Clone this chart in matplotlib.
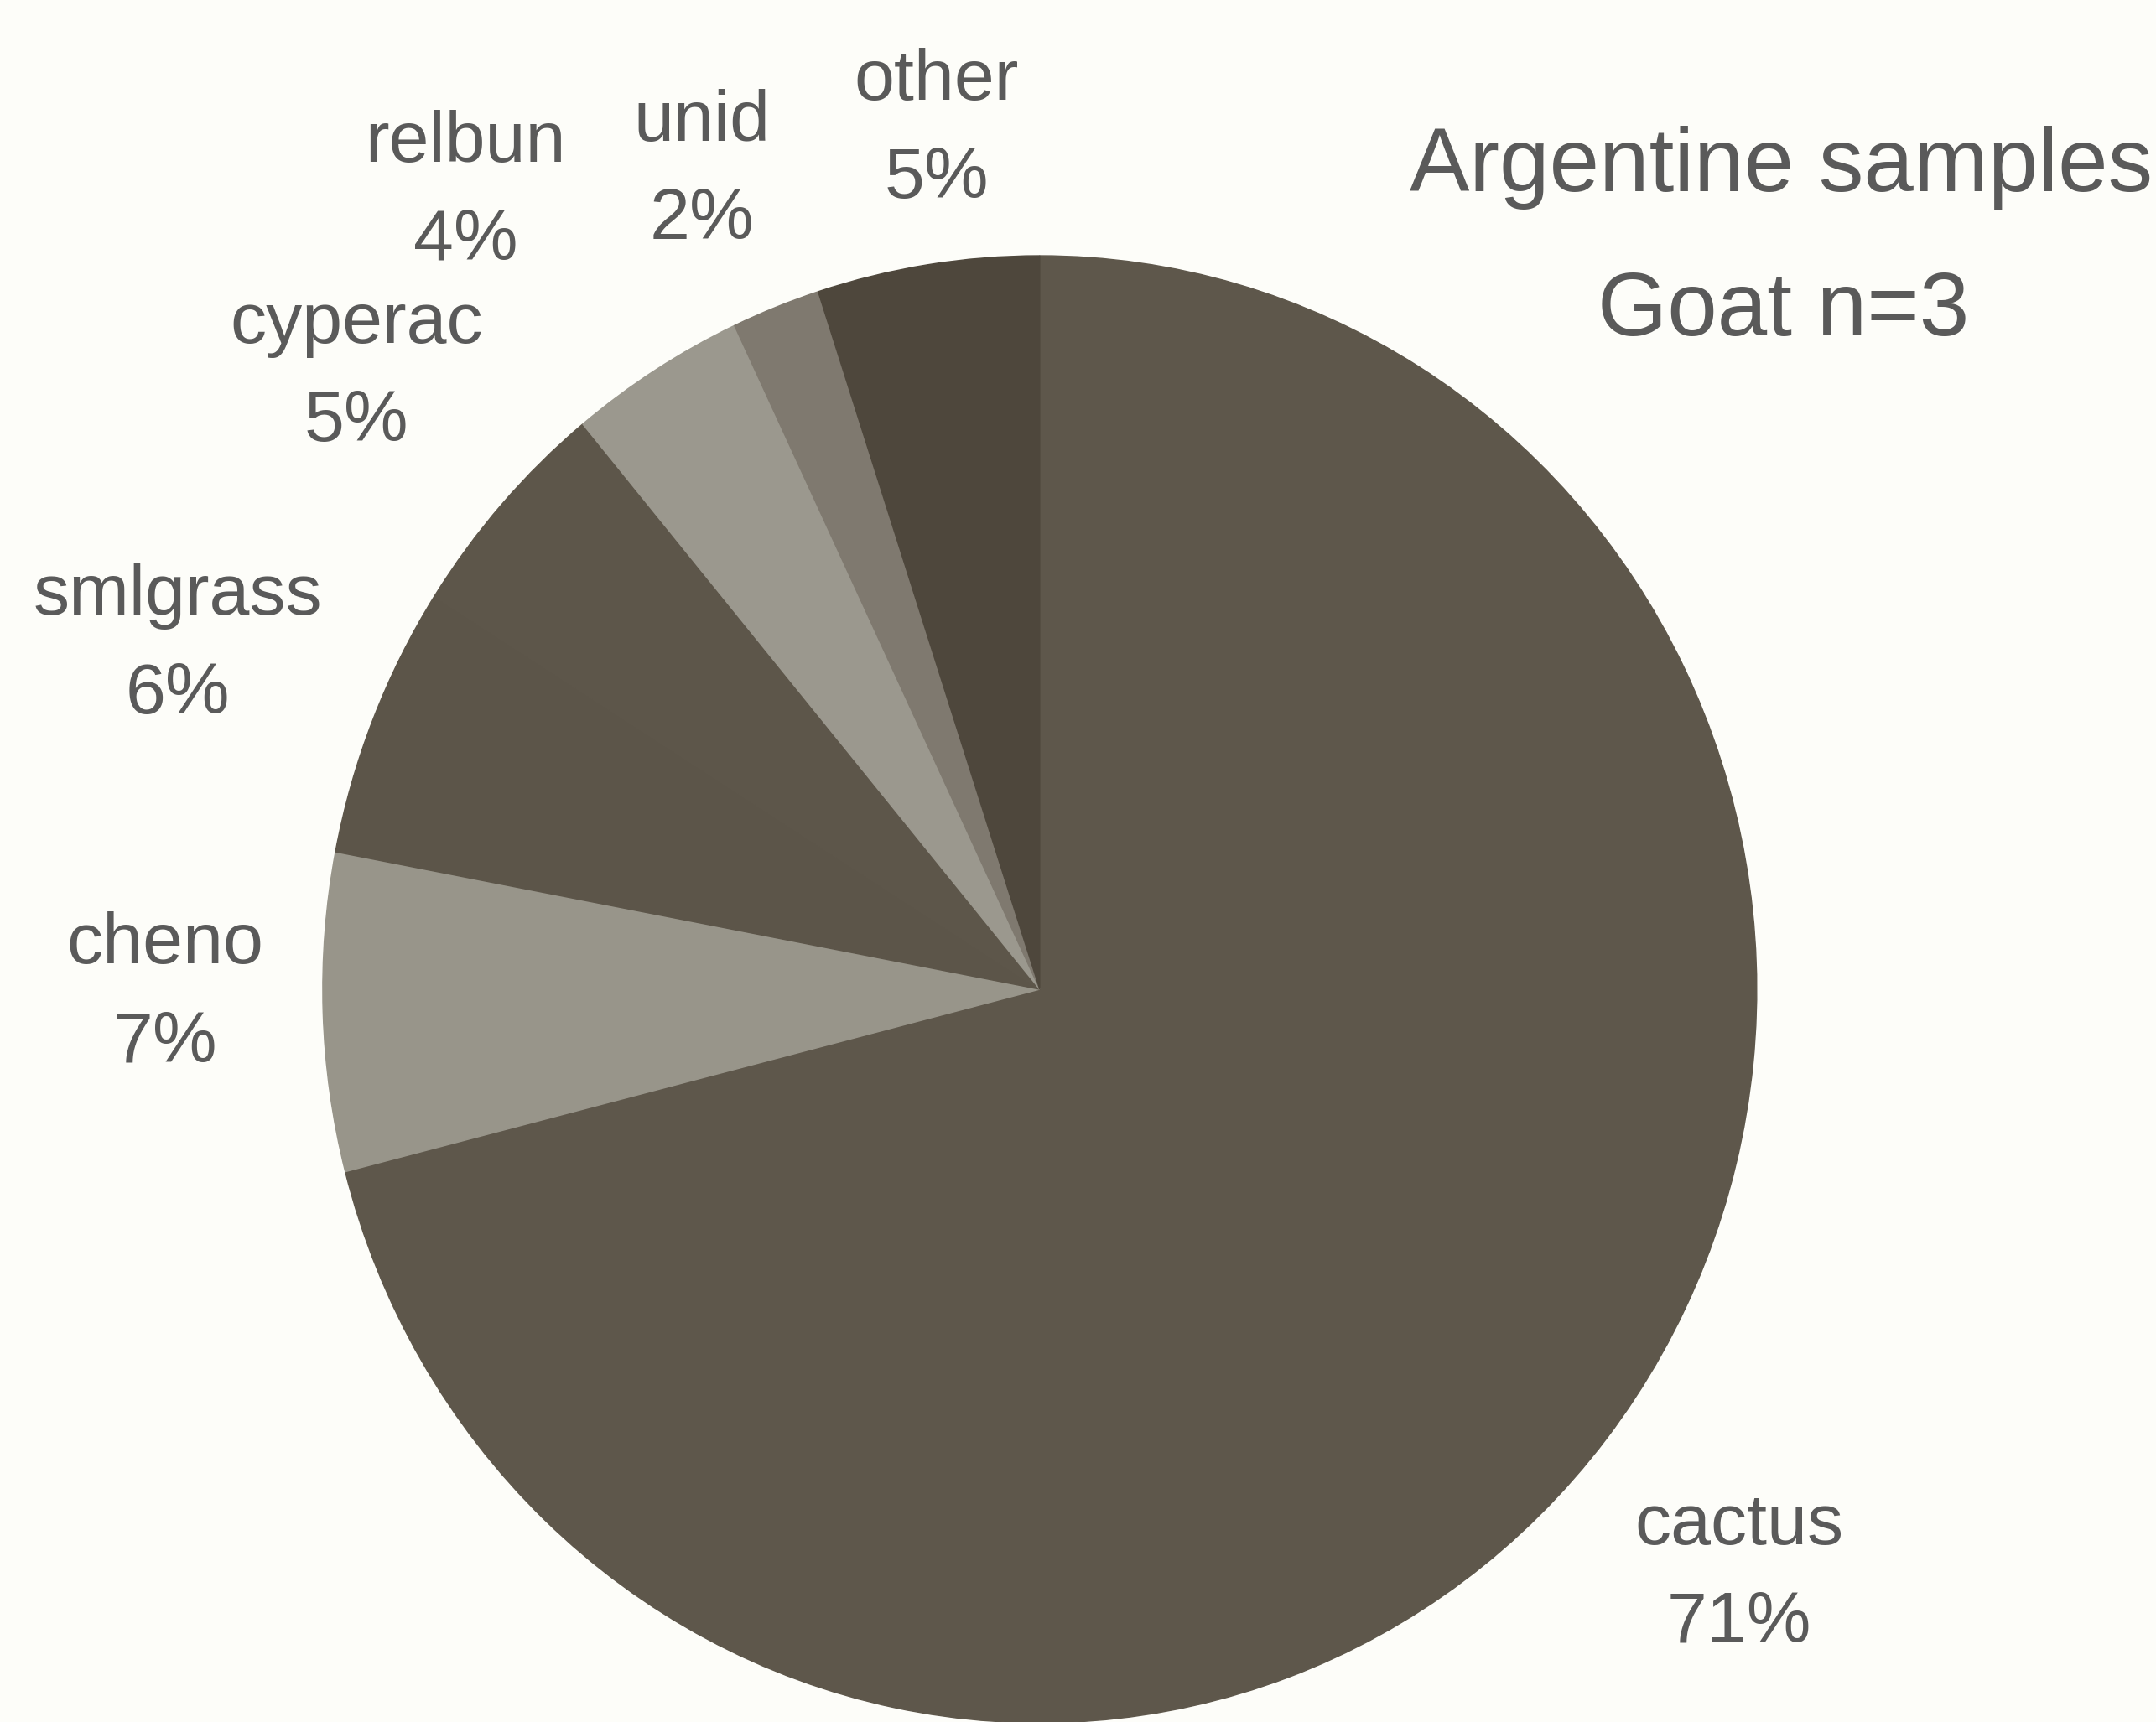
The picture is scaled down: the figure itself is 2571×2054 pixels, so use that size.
import numpy as np
import matplotlib
matplotlib.use("Agg")
import matplotlib.pyplot as plt

# Goat diet composition, Argentine samples
categories = ["cactus", "cheno", "smlgrass", "cyperac", "relbun", "unid", "other"]
percents = [71, 7, 6, 5, 4, 2, 5]
title_lines = ["Argentine samples", "Goat n=3"]

wedge_colors = ["#5e574b", "#98958a", "#5c5549", "#5d564a", "#9b988e", "#7f796f", "#4e473c"]
# per-label radial distance and angular nudge (degrees) from the wedge middle
label_dist = [1.26, 1.22, 1.29, 1.27, 1.35, 1.21, 1.18]
label_nudge = [-1.5, -1.5, 0.3, 0.0, 4.0, 1.3, -2.0]

text_color = "#5a5a5a"
bg = "#fdfdf9"

plt.rcParams["font.family"] = ["Liberation Sans", "DejaVu Sans"]

fig = plt.figure(figsize=(25.71, 20.54), dpi=100, facecolor=bg)
ax = fig.add_axes([0.1497, -0.0005, 0.6651, 0.852])
ax.set_facecolor(bg)

wedges, _ = ax.pie(
    percents,
    colors=wedge_colors,
    startangle=90,
    counterclock=False,
    radius=1.0,
)
# edge each wedge in its own colour so neighbouring dark slices blend
for w, c in zip(wedges, wedge_colors):
    w.set_edgecolor(c)
    w.set_linewidth(1.0)

ax.set_xlim(-1, 1)
ax.set_ylim(-1, 1)
ax.set_aspect("auto")
ax.axis("off")

for w, name, pct, d, nudge in zip(wedges, categories, percents, label_dist, label_nudge):
    mid = np.deg2rad((w.theta1 + w.theta2) / 2 + nudge)
    x, y = d * np.cos(mid), d * np.sin(mid)
    ax.text(x, y, f"{name}\n{pct}%", ha="center", va="center", fontsize=62,
            color=text_color, linespacing=1.6, clip_on=False)

fig.text(0.826, 1 - 200 / 2054, title_lines[0], ha="center", va="center",
         fontsize=77, color=text_color)
fig.text(0.827, 1 - 372 / 2054, title_lines[1], ha="center", va="center",
         fontsize=77, color=text_color)

fig.savefig("out.png", dpi=100, facecolor=bg)
